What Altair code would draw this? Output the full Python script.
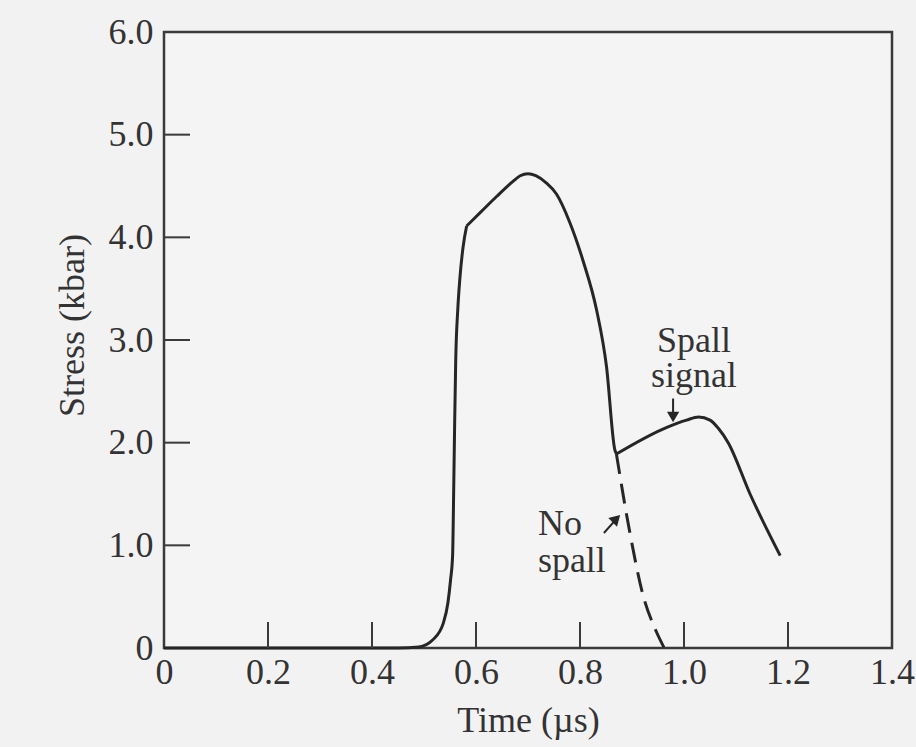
import altair as alt
import pandas as pd

# ---- data ----
rise_t = [0.0, 0.1, 0.2, 0.3, 0.4, 0.45, 0.49, 0.517, 0.537, 0.546, 0.551, 0.555, 0.557,
          0.559, 0.561, 0.565, 0.569, 0.575, 0.582]
rise_s = [0.0, 0.0, 0.0, 0.0, 0.0, 0.0, 0.01, 0.08, 0.24, 0.44, 0.66, 0.9, 1.5,
          2.2, 2.8, 3.3, 3.6, 3.9, 4.11]
top_t = [0.582, 0.61, 0.64, 0.67, 0.685, 0.70, 0.715, 0.735, 0.755, 0.78, 0.806, 0.832,
         0.851, 0.867, 0.870]
top_s = [4.11, 4.25, 4.40, 4.54, 4.60, 4.62, 4.60, 4.53, 4.42, 4.15, 3.77, 3.29,
         2.74, 1.93, 1.89]
spall_t = [0.870, 0.967, 1.005, 1.028, 1.050, 1.066, 1.085, 1.127, 1.185]
spall_s = [1.89, 2.15, 2.22, 2.25, 2.22, 2.14, 2.00, 1.50, 0.90]
nospall_t = [0.870, 0.896, 0.922, 0.945, 0.962]
nospall_s = [1.89, 1.12, 0.50, 0.18, 0.0]

x_tick_values = [0, 0.2, 0.4, 0.6, 0.8, 1.0, 1.2, 1.4]
y_tick_values = [0, 1, 2, 3, 4, 5, 6]
x_inner_ticks = [0.2, 0.4, 0.6, 0.8, 1.0, 1.2]
y_inner_ticks = [1, 2, 3, 4, 5]

left_labels = ["No", "spall"]
left_label_t = [0.719, 0.719]
left_label_s = [1.10, 0.74]
center_labels = ["Spall", "signal"]
center_label_t = [1.019, 1.019]
center_label_s = [2.88, 2.54]

# arrows: tail -> head
arrow_t = [0.979, 0.846]
arrow_s = [2.43, 1.12]
arrow_t2 = [0.979, 0.868]
arrow_s2 = [2.26, 1.245]
head_t = [0.979, 0.870]
head_s = [2.25, 1.26]
head_angle = [180, 45]

FONT = "Liberation Serif"
INK = "#262626"
TXT = "#333333"

solid = pd.concat([
    pd.DataFrame({"t": rise_t, "s": rise_s, "seg": "rise"}),
    pd.DataFrame({"t": top_t, "s": top_s, "seg": "top"}),
    pd.DataFrame({"t": spall_t, "s": spall_s, "seg": "spall"}),
], ignore_index=True)
solid["o"] = range(len(solid))
dashed = pd.DataFrame({"t": nospall_t, "s": nospall_s})
dashed["o"] = range(len(dashed))

xs = alt.Scale(domain=[0, 1.4], nice=False, zero=False)
ys = alt.Scale(domain=[0, 6], nice=False)

lab_expr = "datum.value == 0 ? '0' : format(datum.value, '.1f')"

x_axis = alt.Axis(values=x_tick_values, labelExpr=lab_expr, ticks=False, tickSize=0,
                  domain=False, grid=False, labelPadding=7, labelFont=FONT,
                  labelFontSize=36, labelColor=TXT, title="Time (µs)", titleFont=FONT,
                  titleFontSize=36, titleFontWeight="normal", titleColor=TXT,
                  titleBaseline="alphabetic", titleY=83, titleX=364, labelFlush=False)
y_axis = alt.Axis(values=y_tick_values, labelExpr=lab_expr, ticks=False, tickSize=0,
                  domain=False, grid=False, labelPadding=11, labelFont=FONT,
                  labelFontSize=36, labelColor=TXT, title="Stress (kbar)", titleFont=FONT,
                  titleFontSize=36, titleFontWeight="normal", titleColor=TXT,
                  titleBaseline="alphabetic", titleX=-81, titleY=293, titleAlign="center",
                  titleAngle=270, labelFlush=False)


def X(field):
    return alt.X(field, scale=xs, axis=x_axis)


def Y(field):
    return alt.Y(field, scale=ys, axis=y_axis)


line_solid = alt.Chart(solid).mark_line(color=INK, strokeWidth=3, interpolate="monotone",
                                        strokeJoin="round").encode(
    x=X("t:Q"), y=Y("s:Q"), order="o:Q", detail="seg:N")
line_dashed = alt.Chart(dashed).mark_line(color=INK, strokeWidth=3, strokeDash=[20, 10],
                                          interpolate="monotone").encode(
    x=X("t:Q"), y=Y("s:Q"), order="o:Q")

xt = pd.DataFrame({"t": x_inner_ticks})
yt = pd.DataFrame({"s": y_inner_ticks})
x_ticks_layer = alt.Chart(xt).mark_rule(color="#3a3a3a", strokeWidth=2).encode(
    x=X("t:Q"), y=alt.value(616), y2=alt.value(590))
y_ticks_layer = alt.Chart(yt).mark_rule(color="#3a3a3a", strokeWidth=2).encode(
    y=Y("s:Q"), x=alt.value(0), x2=alt.value(26))

lt = pd.DataFrame({"label": left_labels, "t": left_label_t, "s": left_label_s})
ct = pd.DataFrame({"label": center_labels, "t": center_label_t, "s": center_label_s})
text_left = alt.Chart(lt).mark_text(font=FONT, fontSize=36, align="left",
                                    baseline="alphabetic", color=TXT).encode(
    x=X("t:Q"), y=Y("s:Q"), text="label:N")
text_center = alt.Chart(ct).mark_text(font=FONT, fontSize=36, align="center",
                                      baseline="alphabetic", color=TXT).encode(
    x=X("t:Q"), y=Y("s:Q"), text="label:N")

ar = pd.DataFrame({"t": arrow_t, "s": arrow_s, "t2": arrow_t2, "s2": arrow_s2})
arrows = alt.Chart(ar).mark_rule(color=INK, strokeWidth=2).encode(
    x=X("t:Q"), y=Y("s:Q"), x2="t2:Q", y2="s2:Q")
hd = pd.DataFrame({"t": head_t, "s": head_s, "a": head_angle})
heads = alt.Chart(hd).mark_point(shape="triangle-up", filled=True, size=150,
                                 color=INK, opacity=1).encode(
    x=X("t:Q"), y=Y("s:Q"), angle=alt.Angle("a:Q", scale=None))

chart = alt.layer(line_solid, line_dashed, x_ticks_layer, y_ticks_layer,
                  text_left, text_center, arrows, heads).properties(
    width=728, height=616,
    autosize=alt.AutoSizeParams(type="none"),
    padding={"left": 164, "top": 32, "right": 24, "bottom": 99},
    background="#f3f2f3",
).configure_view(stroke="#3a3a3a", strokeWidth=2.5, fill="#f5f4f5")

chart.save("out.html", embed_options={"renderer": "svg", "actions": False})
